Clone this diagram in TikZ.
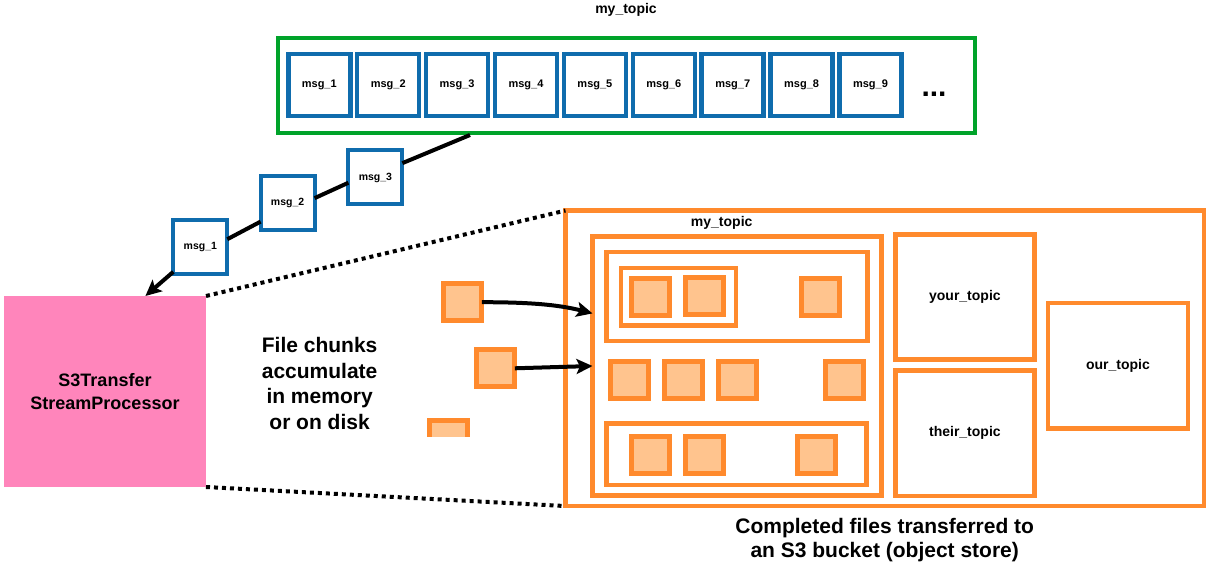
\documentclass[tikz,border=0pt]{standalone}
\usepackage{fontspec}
\setmainfont{Liberation Sans}
\usetikzlibrary{arrows.meta,calc}
\definecolor{msgblue}{HTML}{0F6CAD}
\definecolor{topicgreen}{HTML}{00A32A}
\definecolor{s3orange}{HTML}{FF8A2D}
\definecolor{peach}{HTML}{FFC48E}
\definecolor{procpink}{HTML}{FF85BB}
\begin{document}
\begin{tikzpicture}[x=1pt,y=-1pt,
  box/.style={draw, rectangle, inner sep=0pt, outer sep=0pt},
  msgbox/.style={box, draw=msgblue, line width=4.5pt, fill=white, minimum width=62pt, minimum height=62pt, font=\fontsize{11}{13}\selectfont\bfseries},
  transit/.style={box, draw=msgblue, line width=4pt, fill=white, minimum width=54pt, minimum height=54pt, font=\fontsize{10.5}{12}\selectfont\bfseries},
  obox/.style={box, draw=s3orange, line width=4.5pt},
  chunk/.style={box, draw=s3orange, fill=peach, line width=5pt, minimum width=38pt, minimum height=37pt},
  lbl/.style={inner sep=0pt, font=\fontsize{14}{16}\selectfont\bfseries},
  bigtxt/.style={inner sep=0pt, align=center, font=\fontsize{21}{25.5}\selectfont\bfseries},
  conn/.style={draw=black, line width=4pt},
  arr/.style={conn, -{Stealth[length=16pt,width=15pt,inset=3.5pt]}},
  dots/.style={draw=black, line width=4pt, dash pattern=on 4pt off 4pt}
]
\useasboundingbox (0,0) rectangle (1211,569);

% top topic
\node[lbl] (toptitle) at (626,10) {my\_topic};
\node[box, draw=topicgreen, line width=4pt, minimum width=697.5pt, minimum height=95pt] (green) at (626.25,85.5) {};
\foreach \i in {1,...,9} {
  \node[msgbox] (msg\i) at ({319.3+68.9*(\i-1)},84.9) {msg\_\i};
}
\node[inner sep=0pt, anchor=base, font=\fontsize{30}{32}\selectfont\bfseries] (ellip) at (934,96.7) {...};
\coordinate (gout) at (470,135);

% messages in transit
\node[transit] (m3) at (375.4,177.5) {msg\_3};
\node[transit] (m2) at (287.6,203.4) {msg\_2};
\node[transit] (m1) at (200.3,247.5) {msg\_1};

% processor
\node[box, draw=none, fill=procpink, minimum width=202pt, minimum height=191pt, align=center,
      font=\fontsize{18}{23.3}\selectfont\bfseries] (proc) at (105,391.5) {S3Transfer\\StreamProcessor};

\draw[conn] (gout) -- (m3.28.5);
\draw[conn] (m3.191.3) -- (m2.11.8);
\draw[conn] (m2.214.2) -- (m1.17.4);
\draw[arr] (m1.222.5) -- ($(proc.north west)!0.70!(proc.north east)$);

% text
\node[bigtxt] (chunktxt) at (319.6,383.4) {File chunks\\accumulate\\in memory\\or on disk};

% chunks on the way
\node[chunk] (chunka) at (462.9,302.2) {};
\node[chunk] (chunkb) at (495.8,368.3) {};
\begin{scope}
  \clip (415,405) rectangle (485,436.7);
  \node[chunk] (chunkc) at (448.4,438.7) {};
\end{scope}

% S3 bucket
\node[obox, minimum width=638.3pt, minimum height=295.5pt] (bucket) at (884.6,358.3) {};
\node[lbl] (mytitle) at (721.7,223.3) {my\_topic};
\node[obox, minimum width=289pt, minimum height=259pt] (mytopic) at (737,366) {};
\node[obox, minimum width=261.3pt, minimum height=88.8pt] (row1) at (736.9,296.6) {};
\node[obox, minimum width=114.8pt, minimum height=57.3pt] (grp) at (678.4,296.9) {};
\node[chunk] (c11) at (650.2,297.2) {};
\node[chunk] (c12) at (704.5,296.4) {};
\node[chunk] (c13) at (820.5,296.9) {};
\node[chunk] (c21) at (629.7,380.5) {};
\node[chunk] (c22) at (683.6,380.5) {};
\node[chunk] (c23) at (737,380.5) {};
\node[chunk] (c24) at (844.5,380.5) {};
\node[obox, minimum width=260.4pt, minimum height=61.8pt] (row3) at (736.5,454.2) {};
\node[chunk] (c31) at (650.2,454.5) {};
\node[chunk] (c32) at (704.5,454.5) {};
\node[chunk] (c33) at (816,454.5) {};
\node[obox, minimum width=139.3pt, minimum height=124.9pt, font=\fontsize{14}{16}\selectfont\bfseries] (your) at (964.9,297) {your\_topic};
\node[obox, minimum width=139.3pt, minimum height=125.5pt, font=\fontsize{14}{16}\selectfont\bfseries] (their) at (964.9,433.3) {their\_topic};
\node[obox, minimum width=139.8pt, minimum height=125.5pt, font=\fontsize{14}{16}\selectfont\bfseries] (our) at (1118,366) {our\_topic};

\draw[arr] (chunka.east) .. controls +(45,0) and +(-35,-9) .. (mytopic.160.2);
\draw[arr] (chunkb.east) -- (mytopic.west);

% zoom lines
\draw[dots] (proc.north east) -- (bucket.north west);
\draw[dots] (proc.south east) -- (bucket.south west);

\node[bigtxt, font=\fontsize{21}{24}\selectfont\bfseries] (bucketxt) at (884.7,540.5) {Completed files transferred to\\an S3 bucket (object store)};
\end{tikzpicture}
\end{document}
